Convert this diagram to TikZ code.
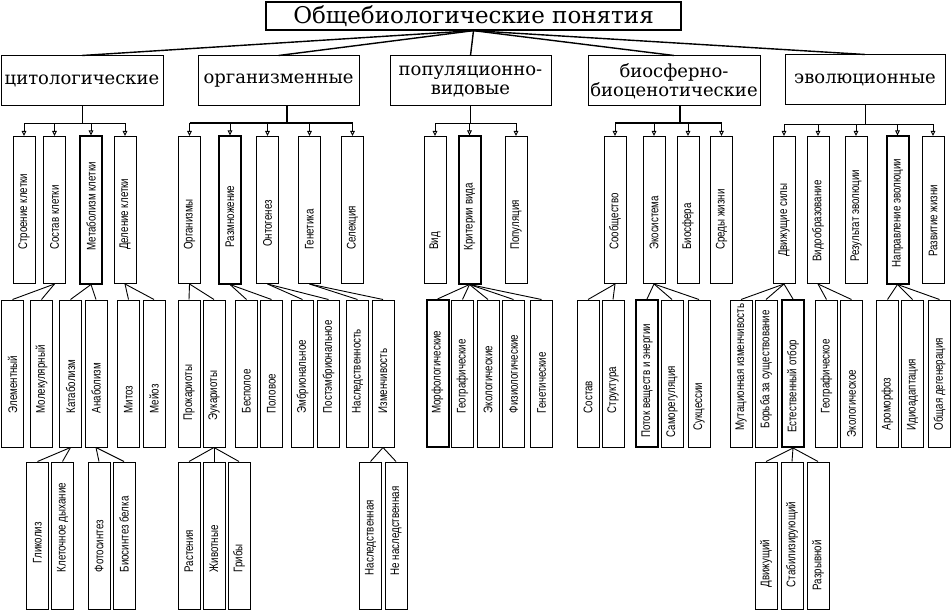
\documentclass[tikz,border=0pt]{standalone}
\usepackage{fontspec}
\setmainfont{DejaVu Serif}
\newfontfamily\narrowfont[FakeStretch=0.78]{Liberation Sans}
\usetikzlibrary{arrows.meta}
\tikzset{headbox/.style={draw, line width=1.3pt, inner sep=0pt, minimum width=415pt, minimum height=28pt, font=\fontsize{23}{25}\selectfont}}
\tikzset{groupbox/.style={draw, line width=1pt, inner sep=0pt, minimum height=50pt, align=center, font=\fontsize{18}{19}\selectfont}}
\tikzset{cardbox/.style={draw, line width=1pt, inner sep=0pt, minimum width=22pt, minimum height=147pt}}
\tikzset{heavy/.style={line width=2pt}}
\tikzset{cardtext/.style={rotate=90, anchor=west, inner sep=0pt, font=\narrowfont\fontsize{12.5}{12.5}\selectfont}}
\tikzset{trunk/.style={line width=1.4pt}, link/.style={line width=0.9pt}, buslink/.style={line width=2pt}}
\tikzset{feed/.style={line width=0.9pt, -{Triangle[open, length=5pt, width=4.5pt]}}}
\newcommand{\card}[5][34]{\node[cardbox, #3] (#2) at (#4) {}; \node[cardtext] (#2t) at ([yshift=#1pt]#2.south) {#5};}

\begin{document}
\begin{tikzpicture}[x=1pt, y=-1pt]
\useasboundingbox (0,0) rectangle (952,612);
\node[headbox] (title) at (473.5,16) {Общебиологические понятия};
\node[groupbox, minimum width=162pt] (cyto) at (82,81) {цитологические};
\node[groupbox, minimum width=161pt] (org) at (278.5,81) {организменные};
\node[groupbox, minimum width=161pt] (pop) at (470.5,81) {популяционно-\\видовые};
\node[groupbox, minimum width=172pt] (bio) at (674,81) {биосферно-\\биоценотические};
\node[groupbox, minimum width=160pt] (evo) at (865,80) {эволюционные};
\foreach \g in {cyto,org,pop,bio,evo} \draw[trunk] (title.south) -- (\g.north);

\card{stroenie}{}{24,210}{Строение клетки}
\card{sostav}{}{54.5,210}{Состав клетки}
\card{metabolizm}{heavy}{91,210}{Метаболизм клетки}
\card{delenie}{}{125,210}{Деление клетки}
\card{organizmy}{}{189.5,210}{Организмы}
\card[37]{razmnozh}{heavy}{230,210}{Размножение}
\card[37]{ontogenez}{}{267.5,210}{Онтогенез}
\card{genetika}{}{309.5,210}{Генетика}
\card{selekciya}{}{352.5,210}{Селекция}
\card{vid}{}{435,210}{Вид}
\card{kriterii}{heavy}{469.5,210}{Критерии вида}
\card{populyaciya}{}{516,210}{Популяция}
\card{soobshch}{}{615,210}{Сообщество}
\card{ekosist}{}{654,210}{Экосистема}
\card{biosfera}{}{688,210}{Биосфера}
\card{sredy}{}{721.5,210}{Среды жизни}
\card[27]{dvizhsily}{}{784,210}{Движущие силы}
\card[22]{vidoobr}{}{818,210}{Видообразование}
\card[22]{rezultat}{}{856,210}{Результат эволюции}
\card[17]{napravl}{heavy}{897.5,210}{Направление эволюции}
\card[27]{razvitie}{}{933,210}{Развитие жизни}

\card{element}{}{12.5,373.5}{Элементный}
\card{molekul}{}{41.5,373.5}{Молекулярный}
\card{katabol}{}{70.5,373.5}{Катаболизм}
\card{anabol}{}{96,373.5}{Анаболизм}
\card{mitoz}{}{128.5,373.5}{Митоз}
\card{meioz}{}{154,373.5}{Мейоз}
\card[27]{prokar}{}{189,373.5}{Прокариоты}
\card[27]{eukar}{}{214,373.5}{Эукариоты}
\card{bespol}{}{246.5,373.5}{Бесполое}
\card{polov}{}{271.5,373.5}{Половое}
\card{embrion}{}{302.5,373.5}{Эмбриональное}
\card{postemb}{}{328.5,373.5}{Постэмбриональное}
\card{nasled}{}{357.5,373.5}{Наследственность}
\card{izmench}{}{383,373.5}{Изменчивость}
\card{morfo}{heavy}{437.5,373.5}{Морфологические}
\card{geogr}{}{462.5,373.5}{Географические}
\card{ekolog}{}{488,373.5}{Экологические}
\card{fiziol}{}{513.5,373.5}{Физиологические}
\card{genet}{}{541.5,373.5}{Генетические}
\card{sostavb}{}{588,373.5}{Состав}
\card{struktura}{}{613,373.5}{Структура}
\card[10]{potok}{heavy}{647,373.5}{Поток веществ и энергии}
\card[10]{samoreg}{}{672,373.5}{Саморегуляция}
\card[17]{sukcess}{}{699,373.5}{Сукцессии}
\card[17]{mutac}{}{741,373.5}{Мутационная изменчивость}
\card[19]{borba}{}{766,373.5}{Борьба за существование}
\card[15]{otbor}{heavy}{793,373.5}{Естественный отбор}
\card{geogrv}{}{826.5,373.5}{Географическое}
\card[10]{ekologv}{}{851.5,373.5}{Экологическое}
\card[17]{aromorf}{}{887.5,373.5}{Ароморфоз}
\card[17]{idioad}{}{912.5,373.5}{Идиоадаптация}
\card[17]{degener}{}{939.5,373.5}{Общая дегенерация}

\card[46]{glikoliz}{}{37.5,535.5}{Гликолиз}
\card[37]{dyhanie}{}{62.5,535.5}{Клеточное дыхание}
\card[37]{fotosint}{}{99,535.5}{Фотосинтез}
\card[37]{biosint}{}{124,535.5}{Биосинтез белка}
\card[37]{rasteniya}{}{189,535.5}{Растения}
\card[37]{zhivotnye}{}{214,535.5}{Животные}
\card[37]{griby}{}{239,535.5}{Грибы}
\card[34]{naslv}{}{370.5,535.5}{Наследственная}
\card[34]{nenaslv}{}{396,535.5}{Не наследственная}
\card[22]{dvizh}{}{766,535.5}{Движущий}
\card[22]{stabil}{}{792,535.5}{Стабилизирующий}
\card[19]{razryv}{}{818,535.5}{Разрывной}

\draw[link] (cyto.south) -- ++(0,17) coordinate (cytohub);
\draw[link] (stroenie.north |- cytohub) -- (delenie.north |- cytohub);
\foreach \n in {stroenie,sostav,metabolizm,delenie} \draw[feed] (\n.north |- cytohub) -- (\n.north);
\draw[buslink] ([xshift=8.5pt]org.south) -- ++(0,17) coordinate (orghub);
\draw[buslink] (organizmy.north |- orghub) -- (selekciya.north |- orghub);
\foreach \n in {organizmy,razmnozh,ontogenez,genetika,selekciya} \draw[feed] (\n.north |- orghub) -- (\n.north);
\draw[link] (pop.south) -- ++(0,17) coordinate (pophub);
\draw[link] (vid.north |- pophub) -- (populyaciya.north |- pophub);
\foreach \n in {vid,kriterii,populyaciya} \draw[feed] (\n.north |- pophub) -- (\n.north);
\draw[buslink] ([xshift=6pt]bio.south) -- ++(0,17) coordinate (biohub);
\draw[buslink] (soobshch.north |- biohub) -- (sredy.north |- biohub);
\foreach \n in {soobshch,ekosist,biosfera,sredy} \draw[feed] (\n.north |- biohub) -- (\n.north);
\draw[link] (evo.south) -- ++(0,19) coordinate (evohub);
\draw[link] (dvizhsily.north |- evohub) -- (razvitie.north |- evohub);
\foreach \n in {dvizhsily,vidoobr,rezultat,napravl,razvitie} \draw[feed] (\n.north |- evohub) -- (\n.north);

\foreach \p/\k in {sostav/element, sostav/molekul, metabolizm/katabol, metabolizm/anabol, delenie/mitoz, delenie/meioz, organizmy/prokar, organizmy/eukar, razmnozh/bespol, razmnozh/polov, ontogenez/embrion, ontogenez/postemb, genetika/nasled, genetika/izmench, kriterii/morfo, kriterii/geogr, kriterii/ekolog, kriterii/fiziol, kriterii/genet, soobshch/sostavb, soobshch/struktura, ekosist/potok, ekosist/samoreg, ekosist/sukcess, dvizhsily/mutac, dvizhsily/borba, dvizhsily/otbor, vidoobr/geogrv, vidoobr/ekologv, napravl/aromorf, napravl/idioad, napravl/degener} \draw[link] (\p.south) -- (\k.north);
\foreach \p/\k in {katabol/glikoliz, katabol/dyhanie, anabol/fotosint, anabol/biosint, eukar/rasteniya, eukar/zhivotnye, eukar/griby, izmench/naslv, izmench/nenaslv, otbor/dvizh, otbor/stabil, otbor/razryv} \draw[link] (\p.south) -- (\k.north);
\end{tikzpicture}
\end{document}
